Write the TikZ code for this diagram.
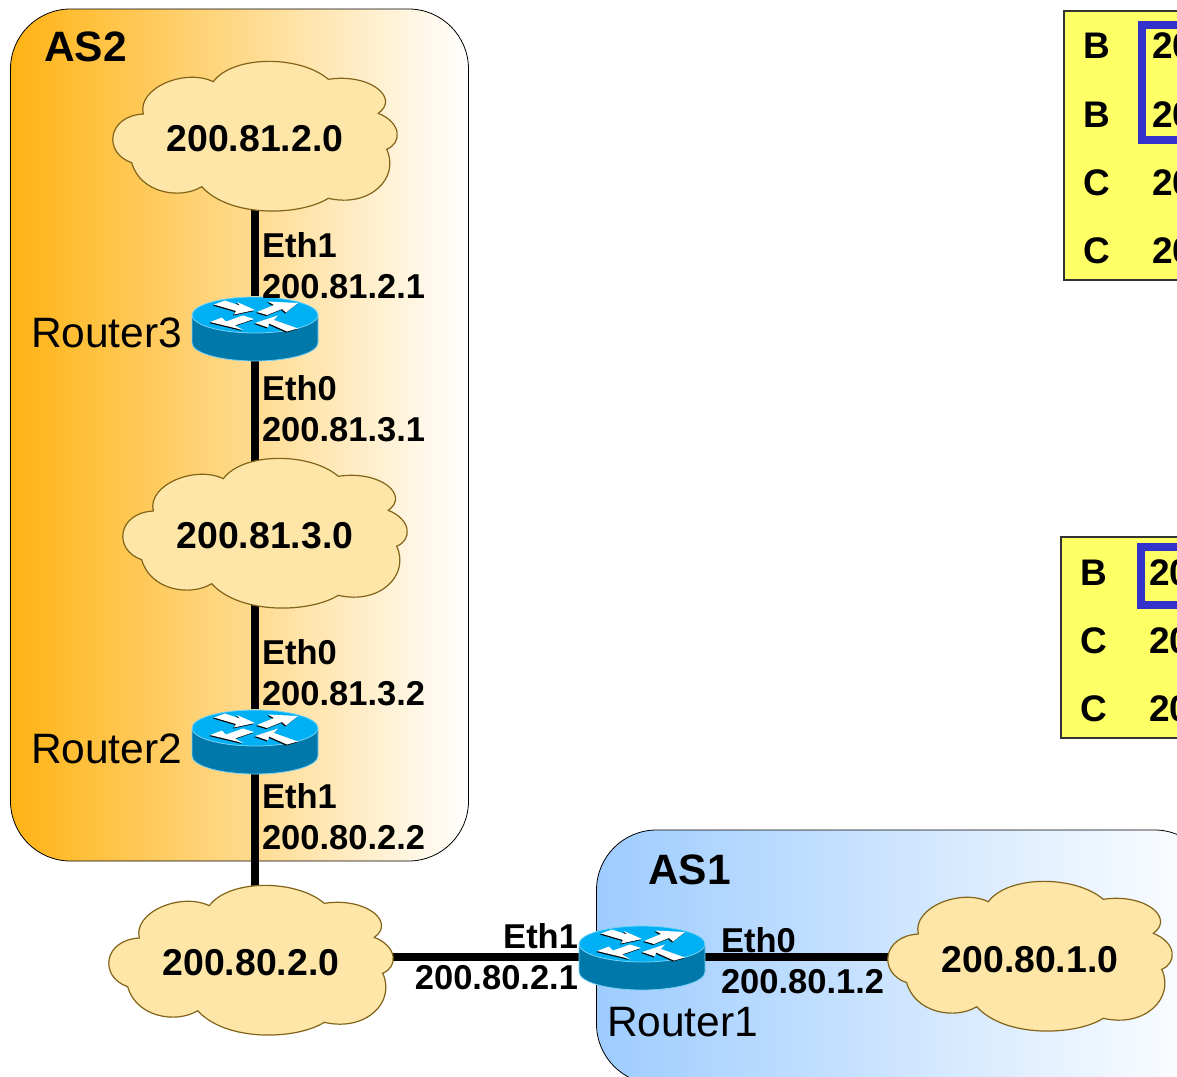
\documentclass[tikz,border=0pt]{standalone}
\usepackage{fontspec}
\setmainfont{Liberation Sans}
\definecolor{as_orange}{RGB}{255, 179, 20}
\definecolor{as_blue}{RGB}{158, 204, 255}
\definecolor{cloud_fill}{RGB}{254, 229, 168}
\definecolor{cloud_line}{RGB}{130, 100, 25}
\definecolor{router_top}{RGB}{0, 176, 245}
\definecolor{router_side}{RGB}{0, 120, 170}
\definecolor{router_edge}{RGB}{120, 210, 245}
\definecolor{table_fill}{RGB}{255, 255, 102}
\definecolor{select_blue}{RGB}{51, 51, 204}
\usetikzlibrary{backgrounds, calc}

\newcommand{\routerarrows}{
  (-41,-10.5) -- (-30,-14.5) -- (-15,-9.5) -- (-18,-13) -- (0,-5) -- (-21,-0.5) -- (-19,-4) -- cycle
  (2,-3) -- (12,0) -- (27,-6) -- (31,-2.5) -- (43,-12) -- (13,-13.5) -- (19,-10) -- cycle
  (-45,7) -- (-12,15) -- (-20,10.5) -- (-1,4) -- (-12,0.5) -- (-29,6.5) -- (-33,2.5) -- cycle
  (0,8) -- (23,0.5) -- (19,5) -- (43,13.5) -- (32,16.5) -- (14,8.5) -- (13,12.5) -- cycle
}

\begin{document}
\begin{tikzpicture}[
    x=1pt, y=-1pt,
    every node/.style={inner sep=0pt, outer sep=0pt},
    asbox/.style={draw=black, line width=0.8pt, rounded corners=60pt, anchor=north west},
    aslabel/.style={font=\bfseries\fontsize{42.5}{48}\selectfont, anchor=base west},
    netlabel/.style={font=\bfseries\fontsize{37.4}{42}\selectfont},
    portlabel/.style={font=\bfseries\fontsize{34.5}{41}\selectfont, align=left, anchor=base west},
    routerlabel/.style={font=\fontsize{42.5}{48}\selectfont, anchor=base west},
    routerspot/.style={minimum width=126pt, minimum height=64pt},
    link/.style={line width=7.5pt, black},
    tablebox/.style={draw=black!80, line width=1.6pt, fill=table_fill, anchor=north west},
    rowlabel/.style={font=\bfseries\fontsize{37}{42}\selectfont, anchor=base west},
    selectbox/.style={draw=select_blue, line width=8pt, anchor=north west},
    netcloud/.pic={
      \draw[cloud_line, fill=cloud_fill, line width=1.2pt]
        (-41.7,-56.3) .. controls (-22,-83) and (45,-83) .. (73.3,-58.7)
        .. controls (115,-65) and (145,-40) .. (123.3,-24.7)
        .. controls (147,-15) and (147,5) .. (131.7,11.3)
        .. controls (145,40) and (115,70) .. (73.3,60.3)
        .. controls (45,78) and (-25,80) .. (-53.3,48.7)
        .. controls (-75,62) and (-115,55) .. (-123.3,24.7)
        .. controls (-152,15) and (-148,-22) .. (-111.7,-24)
        .. controls (-118,-50) and (-70,-70) .. cycle;
    },
    routericon/.pic={
      \fill[router_side, draw=router_edge, line width=0.8pt]
        (-63,-13) -- (-63,15) arc[start angle=180, end angle=0, x radius=63, y radius=18]
        -- (63,-13) -- cycle;
      \fill[router_top, draw=router_edge, line width=0.8pt] (0,-13) ellipse[x radius=63, y radius=18];
      \begin{scope}[shift={(0,-13)}]
        \fill[black, shift={(-1,1)}] \routerarrows;
        \fill[white] \routerarrows;
      \end{scope}
    },
  ]
  \useasboundingbox (0,0) rectangle (1177,1076);

  \pic at (255,138) {netcloud};
  \pic at (265,535) {netcloud};
  \pic at (251,962) {netcloud};
  \pic at (1030,958) {netcloud};
  \pic at (255,328) {routericon};
  \pic at (255,741) {routericon};
  \pic at (642,957) {routericon};

  \node[netlabel] (n812) at (255,139) {200.81.2.0};
  \node[netlabel] (n813) at (265,536) {200.81.3.0};
  \node[netlabel] (n802) at (251,963) {200.80.2.0};
  \node[netlabel] (n801) at (1030,960) {200.80.1.0};
  \node[routerspot] (r3) at (255,328) {};
  \node[routerspot] (r2) at (255,741) {};
  \node[routerspot] (r1) at (642,957) {};

  \begin{scope}[on background layer]
    \node[asbox, left color=as_orange, right color=white, minimum width=458pt, minimum height=852pt] (as2) at (10.5,9) {};
    \node[asbox, left color=as_blue, right color=white, minimum width=618pt, minimum height=254pt] (as1) at (596.5,830) {};
    \draw[link] (r3) -- (r3 |- n812);
    \draw[link] (r3) -- (r3 |- n813);
    \draw[link] (r2) -- (r2 |- n813);
    \draw[link] (r2) -- (r2 |- n802);
    \draw[link] (r1) -- (n802 |- r1);
    \draw[link] (r1) -- (n801 |- r1);
  \end{scope}

  \node[aslabel] (as2name) at (44,61) {AS2};
  \node[aslabel] (as1name) at (648,884) {AS1};
  \node[routerlabel] (r3name) at (31,347) {Router3};
  \node[routerlabel] (r2name) at (31,763) {Router2};
  \node[routerlabel] (r1name) at (607,1036) {Router1};

  \node[portlabel] (p1) at (262,298) {Eth1\\200.81.2.1};
  \node[portlabel] (p2) at (262,441) {Eth0\\200.81.3.1};
  \node[portlabel] (p3) at (262,705) {Eth0\\200.81.3.2};
  \node[portlabel] (p4) at (262,849) {Eth1\\200.80.2.2};
  \node[portlabel, align=right, anchor=base east] (p5) at (578,989) {Eth1\\200.80.2.1};
  \node[portlabel] (p6) at (721,993) {Eth0\\200.80.1.2};

  \node[tablebox, minimum width=160pt, minimum height=269pt] (tab1) at (1064,11) {};
  \node[selectbox, minimum width=80pt, minimum height=115pt] (sel1) at (1142,25) {};
  \node[rowlabel] (t1a) at (1083,58) {B};
  \node[rowlabel] (t1b) at (1083,127) {B};
  \node[rowlabel] (t1c) at (1083,195) {C};
  \node[rowlabel] (t1d) at (1083,263) {C};
  \node[rowlabel] (v1a) at (1152,58) {20};
  \node[rowlabel] (v1b) at (1152,127) {20};
  \node[rowlabel] (v1c) at (1152,195) {20};
  \node[rowlabel] (v1d) at (1152,263) {20};

  \node[tablebox, minimum width=160pt, minimum height=201pt] (tab2) at (1061,537) {};
  \node[selectbox, minimum width=80pt, minimum height=58pt] (sel2) at (1141,547) {};
  \node[rowlabel] (t2a) at (1080,585) {B};
  \node[rowlabel] (t2b) at (1080,653) {C};
  \node[rowlabel] (t2c) at (1080,721) {C};
  \node[rowlabel] (v2a) at (1149,585) {20};
  \node[rowlabel] (v2b) at (1149,653) {20};
  \node[rowlabel] (v2c) at (1149,721) {20};
\end{tikzpicture}
\end{document}
